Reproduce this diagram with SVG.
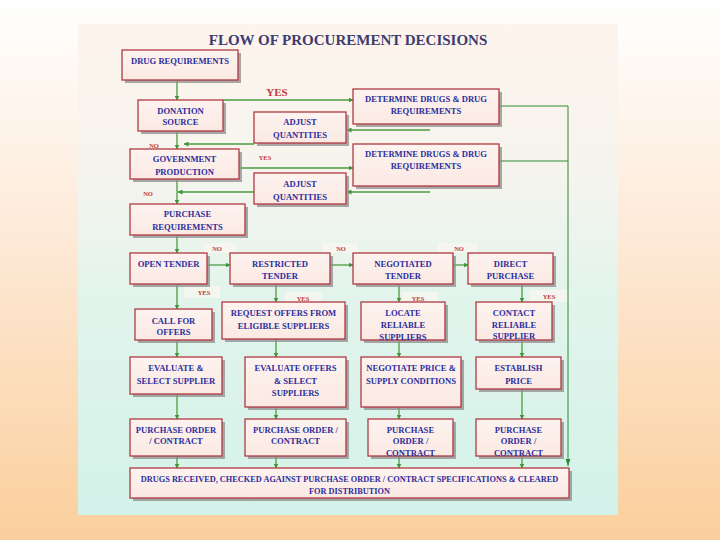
<svg xmlns="http://www.w3.org/2000/svg" width="720" height="540" viewBox="0 0 720 540">
<defs>
<linearGradient id="bgOuter" x1="0" y1="0" x2="0" y2="1">
<stop offset="0" stop-color="#ffffff"/>
<stop offset="0.45" stop-color="#fde9d6"/>
<stop offset="1" stop-color="#fbcf9c"/>
</linearGradient>
<linearGradient id="bgPanel" x1="0" y1="0" x2="0" y2="1">
<stop offset="0" stop-color="#fdf4ec"/>
<stop offset="0.3" stop-color="#f6f4ee"/>
<stop offset="0.55" stop-color="#e2f4ec"/>
<stop offset="1" stop-color="#d3f2e9"/>
</linearGradient>
<linearGradient id="boxFill" x1="0" y1="0" x2="0" y2="1">
<stop offset="0" stop-color="#fdf3ef"/>
<stop offset="1" stop-color="#fbe9e3"/>
</linearGradient>
<marker id="ah" viewBox="0 0 10 10" refX="9" refY="5" markerWidth="5" markerHeight="5" orient="auto" markerUnits="userSpaceOnUse">
<path d="M0,0 L10,5 L0,10 Z" fill="#3f963a"/>
</marker>
</defs>
<style>
.sh{fill:#8e8e8e;opacity:0.75}
.bx{fill:url(#boxFill);stroke:#b03a42;stroke-width:1.3}
.t{font-family:"Liberation Serif","Times New Roman",serif;font-weight:bold;font-size:8.6px;fill:#2c2c9c;text-anchor:middle}
.c{fill:none;stroke:#4c9c40;stroke-width:1.3;marker-end:url(#ah)}
.cd{fill:none;stroke:#2f8a34;stroke-width:1;}
.lb{font-family:"Liberation Serif","Times New Roman",serif;font-weight:bold;font-size:6.5px;fill:#c23a3a;text-anchor:middle}
.lbg{fill:#fbf6f1;opacity:0.7}
</style>
<rect x="0" y="0" width="720" height="540" fill="url(#bgOuter)"/>
<rect x="78" y="24" width="540" height="491" fill="url(#bgPanel)"/>
<text x="348" y="45" font-family="Liberation Serif,Times New Roman,serif" font-weight="bold" font-size="15" fill="#3c3c70" text-anchor="middle">FLOW OF PROCUREMENT DECISIONS</text>

<g id="connectors">
<rect class="lbg" x="204" y="243" width="32" height="10"/>
<rect class="lbg" x="322" y="243" width="36" height="10"/>
<rect class="lbg" x="438" y="243" width="40" height="10"/>
<rect class="lbg" x="184" y="286" width="36" height="12"/>
<rect class="lbg" x="285" y="292" width="37" height="12"/>
<rect class="lbg" x="402" y="292" width="36" height="12"/>
<rect class="lbg" x="530" y="290" width="40" height="12"/>
<path class="c" d="M177,80 V100"/>
<path class="c" d="M223,100 H353"/>
<path class="cd" d="M499,106 H568 V466"/>
<path d="M568,466 L565.5,459 L570.5,459 Z" fill="#2f8a34"/>
<path class="cd" d="M499,161 H568"/>
<path class="c" d="M430,130 H347"/>
<path class="c" d="M254,144 H184"/>
<path class="c" d="M177,131 V149"/>
<path class="c" d="M239,168 H353"/>
<path class="c" d="M430,192 H347"/>
<path class="c" d="M254,192 H178"/>
<path class="c" d="M177,179 V204"/>
<path class="c" d="M177,235 V253"/>
<path class="c" d="M207,265 H230"/>
<path class="c" d="M330,265 H353"/>
<path class="c" d="M453,265 H468"/>
<path class="c" d="M177,284 V309"/>
<path class="c" d="M276,284 V302"/>
<path class="c" d="M399,284 V302"/>
<path class="c" d="M522,284 V302"/>
<path class="c" d="M177,340 V357"/>
<path class="c" d="M276,339 V357"/>
<path class="c" d="M399,340 V357"/>
<path class="c" d="M522,340 V357"/>
<path class="c" d="M177,394 V419"/>
<path class="c" d="M276,407 V419"/>
<path class="c" d="M399,407 V419"/>
<path class="c" d="M522,389 V419"/>
<path class="c" d="M177,456 V468"/>
<path class="c" d="M276,456 V468"/>
<path class="c" d="M399,456 V468"/>
<path class="c" d="M522,456 V468"/>
<text x="277" y="96" font-family="Liberation Serif,Times New Roman,serif" font-weight="bold" font-size="11" fill="#c23a3a" text-anchor="middle">YES</text>
<text class="lb" x="154" y="148">NO</text>
<text class="lb" x="265" y="160">YES</text>
<text class="lb" x="148" y="196">NO</text>
<text class="lb" x="217" y="251">NO</text>
<text class="lb" x="341" y="251">NO</text>
<text class="lb" x="459" y="251">NO</text>
<text class="lb" x="204" y="295">YES</text>
<text class="lb" x="303" y="301">YES</text>
<text class="lb" x="418" y="301">YES</text>
<text class="lb" x="549" y="299">YES</text>
</g>

<g id="drug-requirements">
<rect class="sh" x="125" y="53" width="116" height="30"/>
<rect class="bx" x="122" y="50" width="116" height="30"/>
<text class="t" x="180" y="64">DRUG REQUIREMENTS</text>
</g>
<g id="donation-source">
<rect class="sh" x="141" y="103" width="85" height="31"/>
<rect class="bx" x="138" y="100" width="85" height="31"/>
<text class="t" x="180.5" y="114">DONATION</text>
<text class="t" x="180.5" y="125">SOURCE</text>
</g>
<g id="adjust-quantities-1">
<rect class="sh" x="257" y="115" width="92" height="31"/>
<rect class="bx" x="254" y="112" width="92" height="31"/>
<text class="t" x="300" y="125">ADJUST</text>
<text class="t" x="300" y="138">QUANTITIES</text>
</g>
<g id="determine-drugs-1">
<rect class="sh" x="356" y="92" width="146" height="35"/>
<rect class="bx" x="353" y="89" width="146" height="35"/>
<text class="t" x="426" y="102">DETERMINE DRUGS &amp; DRUG</text>
<text class="t" x="426" y="114">REQUIREMENTS</text>
</g>
<g id="government-production">
<rect class="sh" x="133" y="152" width="109" height="30"/>
<rect class="bx" x="130" y="149" width="109" height="30"/>
<text class="t" x="184.5" y="162">GOVERNMENT</text>
<text class="t" x="184.5" y="175">PRODUCTION</text>
</g>
<g id="determine-drugs-2">
<rect class="sh" x="356" y="147" width="146" height="42"/>
<rect class="bx" x="353" y="144" width="146" height="42"/>
<text class="t" x="426" y="157">DETERMINE DRUGS &amp; DRUG</text>
<text class="t" x="426" y="169">REQUIREMENTS</text>
</g>
<g id="adjust-quantities-2">
<rect class="sh" x="257" y="176" width="92" height="31"/>
<rect class="bx" x="254" y="173" width="92" height="31"/>
<text class="t" x="300" y="187">ADJUST</text>
<text class="t" x="300" y="200">QUANTITIES</text>
</g>
<g id="purchase-requirements">
<rect class="sh" x="133" y="207" width="115" height="31"/>
<rect class="bx" x="130" y="204" width="115" height="31"/>
<text class="t" x="187.5" y="217">PURCHASE</text>
<text class="t" x="187.5" y="230">REQUIREMENTS</text>
</g>
<g id="open-tender">
<rect class="sh" x="133" y="256" width="77" height="31"/>
<rect class="bx" x="130" y="253" width="77" height="31"/>
<text class="t" x="168.5" y="267">OPEN TENDER</text>
</g>
<g id="restricted-tender">
<rect class="sh" x="233" y="256" width="100" height="31"/>
<rect class="bx" x="230" y="253" width="100" height="31"/>
<text class="t" x="280" y="267">RESTRICTED</text>
<text class="t" x="280" y="279">TENDER</text>
</g>
<g id="negotiated-tender">
<rect class="sh" x="356" y="256" width="100" height="31"/>
<rect class="bx" x="353" y="253" width="100" height="31"/>
<text class="t" x="403" y="267">NEGOTIATED</text>
<text class="t" x="403" y="279">TENDER</text>
</g>
<g id="direct-purchase">
<rect class="sh" x="471" y="256" width="85" height="31"/>
<rect class="bx" x="468" y="253" width="85" height="31"/>
<text class="t" x="510.5" y="267">DIRECT</text>
<text class="t" x="510.5" y="279">PURCHASE</text>
</g>
<g id="call-for-offers">
<rect class="sh" x="138" y="312" width="77" height="31"/>
<rect class="bx" x="135" y="309" width="77" height="31"/>
<text class="t" x="173.5" y="324">CALL FOR</text>
<text class="t" x="173.5" y="335">OFFERS</text>
</g>
<g id="request-offers">
<rect class="sh" x="225" y="305" width="123" height="37"/>
<rect class="bx" x="222" y="302" width="123" height="37"/>
<text class="t" x="283.5" y="316">REQUEST OFFERS FROM</text>
<text class="t" x="283.5" y="329">ELIGIBLE SUPPLIERS</text>
</g>
<g id="locate-reliable-suppliers">
<rect class="sh" x="364" y="305" width="84" height="38"/>
<rect class="bx" x="361" y="302" width="84" height="38"/>
<text class="t" x="403" y="316">LOCATE</text>
<text class="t" x="403" y="328">RELIABLE</text>
<text class="t" x="403" y="340">SUPPLIERS</text>
</g>
<g id="contact-reliable-supplier">
<rect class="sh" x="479" y="305" width="76" height="38"/>
<rect class="bx" x="476" y="302" width="76" height="38"/>
<text class="t" x="514" y="316">CONTACT</text>
<text class="t" x="514" y="328">RELIABLE</text>
<text class="t" x="514" y="339">SUPPLIER</text>
</g>
<g id="evaluate-select-supplier">
<rect class="sh" x="133" y="360" width="92" height="37"/>
<rect class="bx" x="130" y="357" width="92" height="37"/>
<text class="t" x="176" y="371">EVALUATE &amp;</text>
<text class="t" x="176" y="384">SELECT SUPPLIER</text>
</g>
<g id="evaluate-offers">
<rect class="sh" x="248" y="360" width="101" height="50"/>
<rect class="bx" x="245" y="357" width="101" height="50"/>
<text class="t" x="295.5" y="371">EVALUATE OFFERS</text>
<text class="t" x="295.5" y="384">&amp; SELECT</text>
<text class="t" x="295.5" y="396">SUPPLIERS</text>
</g>
<g id="negotiate-price">
<rect class="sh" x="364" y="360" width="100" height="50"/>
<rect class="bx" x="361" y="357" width="100" height="50"/>
<text class="t" x="411" y="371">NEGOTIATE PRICE &amp;</text>
<text class="t" x="411" y="384">SUPPLY CONDITIONS</text>
</g>
<g id="establish-price">
<rect class="sh" x="479" y="360" width="85" height="32"/>
<rect class="bx" x="476" y="357" width="85" height="32"/>
<text class="t" x="518.5" y="371">ESTABLISH</text>
<text class="t" x="518.5" y="384">PRICE</text>
</g>
<g id="purchase-order-1">
<rect class="sh" x="133" y="422" width="92" height="37"/>
<rect class="bx" x="130" y="419" width="92" height="37"/>
<text class="t" x="176" y="433">PURCHASE ORDER</text>
<text class="t" x="176" y="444">/ CONTRACT</text>
</g>
<g id="purchase-order-2">
<rect class="sh" x="248" y="422" width="101" height="37"/>
<rect class="bx" x="245" y="419" width="101" height="37"/>
<text class="t" x="295.5" y="433">PURCHASE ORDER /</text>
<text class="t" x="295.5" y="444">CONTRACT</text>
</g>
<g id="purchase-order-3">
<rect class="sh" x="371" y="422" width="85" height="37"/>
<rect class="bx" x="368" y="419" width="85" height="37"/>
<text class="t" x="410.5" y="433">PURCHASE</text>
<text class="t" x="410.5" y="444">ORDER /</text>
<text class="t" x="410.5" y="456">CONTRACT</text>
</g>
<g id="purchase-order-4">
<rect class="sh" x="479" y="422" width="85" height="37"/>
<rect class="bx" x="476" y="419" width="85" height="37"/>
<text class="t" x="518.5" y="433">PURCHASE</text>
<text class="t" x="518.5" y="444">ORDER /</text>
<text class="t" x="518.5" y="456">CONTRACT</text>
</g>
<g id="drugs-received">
<rect class="sh" x="133" y="471" width="439" height="30"/>
<rect class="bx" x="130" y="468" width="439" height="30"/>
<text class="t" x="349.5" y="482" style="font-size:8.3px">DRUGS RECEIVED, CHECKED AGAINST PURCHASE ORDER / CONTRACT SPECIFICATIONS &amp; CLEARED</text>
<text class="t" x="349.5" y="494" style="font-size:8.3px">FOR DISTRIBUTION</text>
</g>
</svg>
